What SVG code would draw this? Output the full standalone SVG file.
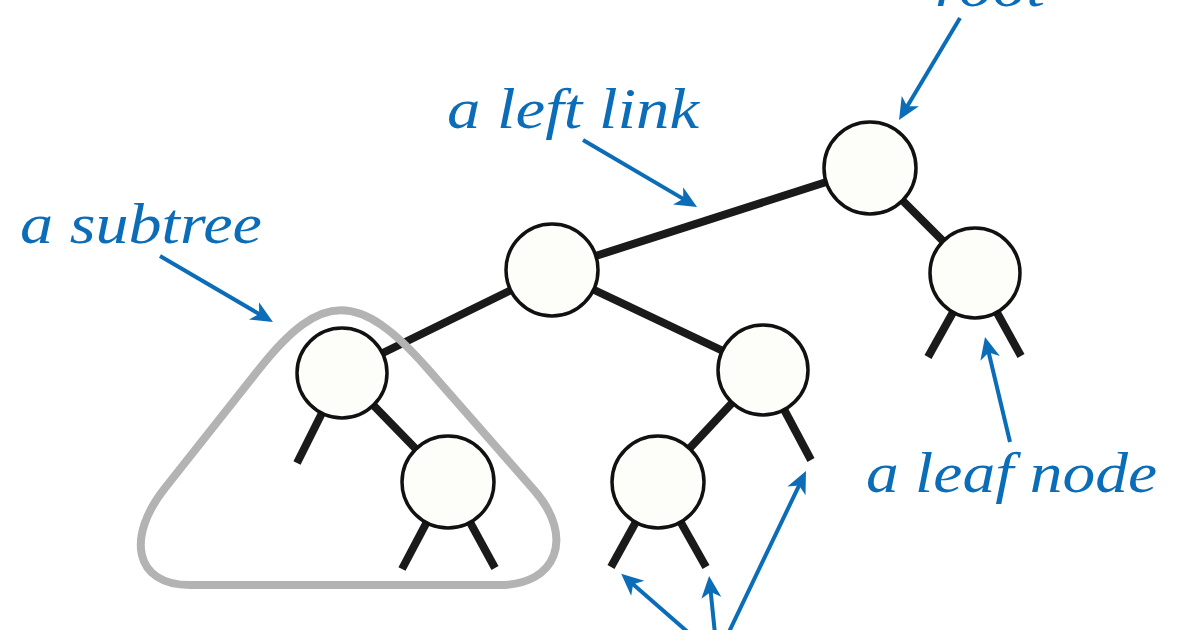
<svg xmlns="http://www.w3.org/2000/svg" width="1200" height="630" viewBox="0 0 1200 630">
<style>
.lbl{font-family:"Liberation Serif","DejaVu Serif",serif;font-style:italic;font-size:58px;fill:#0b6db7}
.edge{stroke:#1a1a1a;stroke-width:8;fill:none}
.node{fill:#fdfdfa;stroke:#111;stroke-width:3.5}
.arr{stroke:#0b6db7;stroke-width:4;fill:none;marker-end:url(#ah)}
</style>
<defs>
<marker id="ah" markerUnits="userSpaceOnUse" orient="auto" refX="0" refY="0" markerWidth="40" markerHeight="40" overflow="visible">
<path d="M12,0 L-10,-10 L-4,0 L-10,10 Z" fill="#0b6db7"/>
</marker>
</defs>
<rect width="1200" height="630" fill="#ffffff"/>
<g id="connectors">
<line class="edge" x1="870" y1="168" x2="552" y2="270"/>
<line class="edge" x1="870" y1="168" x2="975" y2="273"/>
<line class="edge" x1="552" y1="270" x2="342" y2="373"/>
<line class="edge" x1="552" y1="270" x2="763" y2="370"/>
<line class="edge" x1="342" y1="373" x2="448" y2="482"/>
<line class="edge" x1="763" y1="370" x2="658" y2="482"/>
<line class="edge" x1="975" y1="273" x2="928" y2="357"/>
<line class="edge" x1="975" y1="273" x2="1021" y2="356"/>
<line class="edge" x1="342" y1="373" x2="297" y2="463"/>
<line class="edge" x1="448" y1="482" x2="402" y2="569"/>
<line class="edge" x1="448" y1="482" x2="495" y2="568"/>
<line class="edge" x1="763" y1="370" x2="811" y2="460"/>
<line class="edge" x1="658" y1="482" x2="611" y2="567"/>
<line class="edge" x1="658" y1="482" x2="706" y2="567"/>
</g>
<path id="subtree-outline" d="M260,368 L165,488 C126,537 134,585 190,585 L500,585 C556,585 575.8,537.7 534,490 L427,368 C359.6,291 321,291 260,368 Z" fill="none" stroke="#b3b3b3" stroke-width="8"/>
<g id="n-root"><circle class="node" cx="870" cy="168" r="46"/></g>
<g id="n-r"><circle class="node" cx="975" cy="273" r="45"/></g>
<g id="n-l"><circle class="node" cx="552" cy="270" r="46"/></g>
<g id="n-ll"><circle class="node" cx="342" cy="373" r="45"/></g>
<g id="n-llr"><circle class="node" cx="448" cy="482" r="46"/></g>
<g id="n-lr"><circle class="node" cx="763" cy="370" r="45"/></g>
<g id="n-lrl"><circle class="node" cx="658" cy="482" r="46"/></g>
<g id="annotations">
<line class="arr" x1="960" y1="18" x2="905.2" y2="109.7"/>
<line class="arr" x1="583" y1="140" x2="686.7" y2="200.9"/>
<line class="arr" x1="160" y1="256" x2="262.6" y2="316"/>
<line class="arr" x1="1010" y1="442" x2="987.8" y2="348.7"/>
<line class="arr" x1="690" y1="634" x2="630.2" y2="581.7"/>
<line class="arr" x1="715" y1="634" x2="710.3" y2="587.9"/>
<line class="arr" x1="728" y1="634" x2="800.8" y2="481.8"/>
</g>
<g id="labels">
<text class="lbl" x="935" y="6" textLength="110" lengthAdjust="spacingAndGlyphs">root</text>
<text class="lbl" x="447" y="128" textLength="252" lengthAdjust="spacingAndGlyphs">a left link</text>
<text class="lbl" x="20" y="243" textLength="242" lengthAdjust="spacingAndGlyphs">a subtree</text>
<text class="lbl" x="866" y="492" textLength="291" lengthAdjust="spacingAndGlyphs">a leaf node</text>
</g>
</svg>
